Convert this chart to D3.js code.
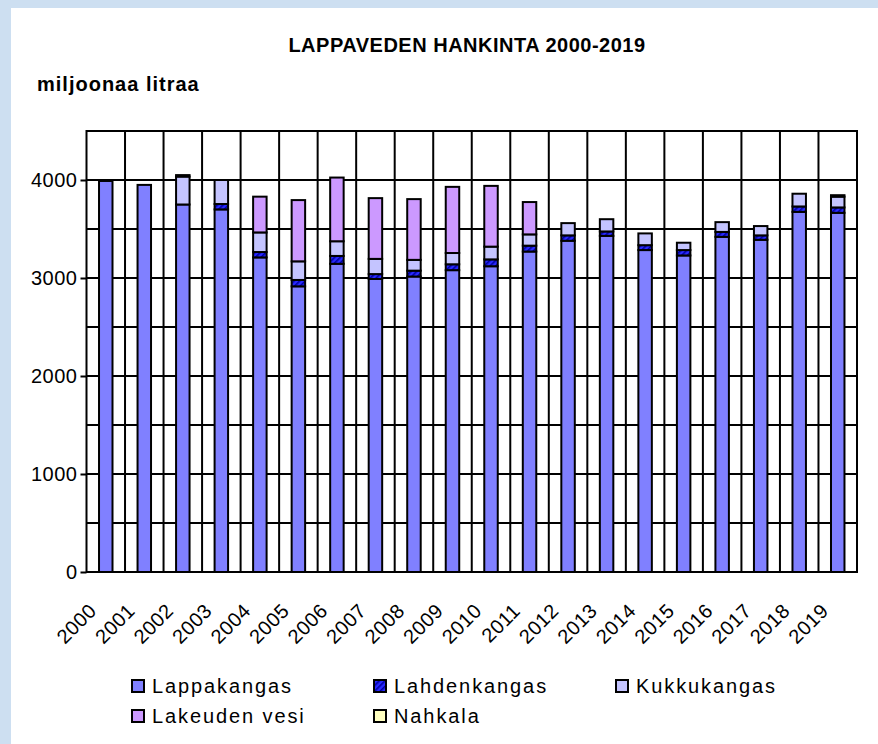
<!DOCTYPE html>
<html>
<head>
<meta charset="utf-8">
<script src="https://d3js.org/d3.v7.min.js"></script>
<style>
    html, body { margin: 0; padding: 0; background: #cddff1; overflow: hidden; }
    #chart { width: 878px; height: 744px; }
    #chart svg { display: block; }
    text { font-family: "Liberation Sans", Arial, sans-serif; fill: #000; }
</style>
</head>
<body>
<div id="chart"></div>
<script>

// ==========================
// Data (miljoonaa litraa)
// ==========================

const years = ["2000", "2001", "2002", "2003", "2004", "2005", "2006", "2007", "2008", "2009",
               "2010", "2011", "2012", "2013", "2014", "2015", "2016", "2017", "2018", "2019"];

const lappakangas = [3990, 3950, 3750, 3700, 3210, 2915, 3145, 2990, 3015, 3080,
                     3120, 3270, 3380, 3430, 3285, 3230, 3420, 3390, 3675, 3665];

const lahdenkangas = [0, 0, 0, 55, 55, 65, 80, 50, 60, 60,
                      70, 60, 55, 45, 50, 55, 50, 45, 55, 55];

const kukkukangas = [0, 0, 285, 245, 200, 190, 150, 155, 110, 115,
                     130, 115, 125, 125, 120, 75, 100, 95, 130, 110];

const lakeudenVesi = [0, 0, 0, 0, 365, 625, 650, 620, 620, 675,
                      620, 330, 0, 0, 0, 0, 0, 0, 0, 0];

const nahkala = [0, 0, 15, 0, 0, 0, 0, 0, 0, 0,
                 0, 0, 0, 0, 0, 0, 0, 0, 0, 15];

const seriesNames = ["Lappakangas", "Lahdenkangas", "Kukkukangas", "Lakeuden vesi", "Nahkala"];

const yTickValues = [0, 1000, 2000, 3000, 4000];

// ==========================
// Combine into table
// ==========================

const table = years.map((y, i) => ({
    year: y,
    "Lappakangas": lappakangas[i],
    "Lahdenkangas": lahdenkangas[i],
    "Kukkukangas": kukkukangas[i],
    "Lakeuden vesi": lakeudenVesi[i],
    "Nahkala": nahkala[i]
}));

const stacked = d3.stack().keys(seriesNames)(table);

// ==========================
// SVG Setup
// ==========================

const width = 878;
const height = 744;

const margin = { top: 131, right: 21, bottom: 172, left: 86.5 };
const innerWidth = width - margin.left - margin.right;
const innerHeight = height - margin.top - margin.bottom;

const svg = d3.select("#chart").append("svg")
    .attr("width", width)
    .attr("height", height);

// white panel over the blue page background
svg.append("rect")
    .attr("x", 11)
    .attr("y", 8)
    .attr("width", width - 11)
    .attr("height", height - 8)
    .attr("fill", "#fff");

const defs = svg.append("defs");
const hatch = defs.append("pattern")
    .attr("id", "hatch")
    .attr("patternUnits", "userSpaceOnUse")
    .attr("width", 4)
    .attr("height", 4)
    .attr("patternTransform", "rotate(45)");
hatch.append("rect")
    .attr("width", 4)
    .attr("height", 4)
    .attr("fill", "#2a2aff");
hatch.append("rect")
    .attr("width", 1.6)
    .attr("height", 4)
    .attr("fill", "#0000a0");

const colors = {
    "Lappakangas": "#8080ff",
    "Lahdenkangas": "url(#hatch)",
    "Kukkukangas": "#c4c4ff",
    "Lakeuden vesi": "#cc99ff",
    "Nahkala": "#ffffc0"
};

const chart = svg.append("g")
    .attr("transform", `translate(${margin.left},${margin.top})`);

// ==========================
// Scales
// ==========================

const xScale = d3.scaleBand()
    .domain(years)
    .range([0, innerWidth])
    .padding(0);

const yScale = d3.scaleLinear()
    .domain([0, 4500])
    .range([innerHeight, 0]);

const barWidth = xScale.bandwidth() * 0.35;

// ==========================
// Grid
// ==========================

chart.selectAll(".hgrid")
    .data(yScale.ticks(9))
    .enter()
    .append("line")
    .attr("x1", 0)
    .attr("x2", innerWidth)
    .attr("y1", d => yScale(d))
    .attr("y2", d => yScale(d))
    .attr("stroke", "#000")
    .attr("stroke-width", 2);

chart.selectAll(".vgrid")
    .data(years.slice(1))
    .enter()
    .append("line")
    .attr("x1", d => xScale(d))
    .attr("x2", d => xScale(d))
    .attr("y1", 0)
    .attr("y2", innerHeight)
    .attr("stroke", "#000")
    .attr("stroke-width", 2);

// ==========================
// Bars
// ==========================

chart.selectAll(".layer")
    .data(stacked)
    .enter()
    .append("g")
    .attr("fill", d => colors[d.key])
    .selectAll("rect")
    .data(d => d.filter(s => s[1] - s[0] > 0))
    .enter()
    .append("rect")
    .attr("x", d => xScale(d.data.year) + (xScale.bandwidth() - barWidth) / 2)
    .attr("y", d => yScale(d[1]))
    .attr("width", barWidth)
    .attr("height", d => yScale(d[0]) - yScale(d[1]))
    .attr("stroke", "#000")
    .attr("stroke-width", 2);

// plot border
chart.append("rect")
    .attr("width", innerWidth)
    .attr("height", innerHeight)
    .attr("fill", "none")
    .attr("stroke", "#000")
    .attr("stroke-width", 2);

// ==========================
// Axes
// ==========================

const yAxis = chart.append("g")
    .call(
        d3.axisLeft(yScale)
            .tickValues(yTickValues)
            .tickFormat(d3.format("d"))
            .tickSize(6)
            .tickPadding(3)
    );

yAxis.select(".domain").remove();
yAxis.selectAll(".tick line").attr("stroke", "#000").attr("stroke-width", 2);
yAxis.selectAll(".tick text")
    .style("font-size", "20px")
    .style("letter-spacing", "0.5px")
    .style("font-family", "'Liberation Sans', Arial, sans-serif")
    .attr("fill", "#000");

// rotated year labels
const yearLabels = chart.selectAll(".year-label")
    .data(years)
    .enter()
    .append("g")
    .attr("class", "year-label")
    .attr("transform", d =>
        `translate(${xScale(d) + xScale.bandwidth() / 2 - 8},${innerHeight + 40})`);

yearLabels.append("text")
    .attr("x", 0)
    .attr("y", 0)
    .attr("text-anchor", "end")
    .attr("transform", "rotate(-45)")
    .style("font-size", "20px")
    .style("letter-spacing", "0.5px")
    .text(d => d);

// ==========================
// Title
// ==========================

svg.append("text")
    .attr("x", 467)
    .attr("y", 52)
    .attr("text-anchor", "middle")
    .style("font-size", "20px")
    .style("font-weight", "bold")
    .style("letter-spacing", "0.5px")
    .text("LAPPAVEDEN HANKINTA 2000-2019");

svg.append("text")
    .attr("x", 37)
    .attr("y", 91)
    .style("font-size", "20px")
    .style("font-weight", "bold")
    .style("letter-spacing", "1px")
    .text("miljoonaa litraa");

// ==========================
// Legend
// ==========================

const legendX = [131, 373, 615];
const legendY = [686, 716];

const legend = svg.selectAll(".legend")
    .data(seriesNames)
    .enter()
    .append("g")
    .attr("transform", (d, i) => `translate(${legendX[i % 3]},${legendY[Math.floor(i / 3)]})`);

legend.append("rect")
    .attr("x", 1)
    .attr("y", -6)
    .attr("width", 12)
    .attr("height", 12)
    .attr("fill", d => colors[d])
    .attr("stroke", "#000")
    .attr("stroke-width", 2);

legend.append("text")
    .attr("x", 21)
    .attr("y", 0)
    .attr("dy", "0.36em")
    .style("font-size", "20px")
    .style("letter-spacing", "1.9px")
    .text(d => d);

</script>
</body>
</html>
